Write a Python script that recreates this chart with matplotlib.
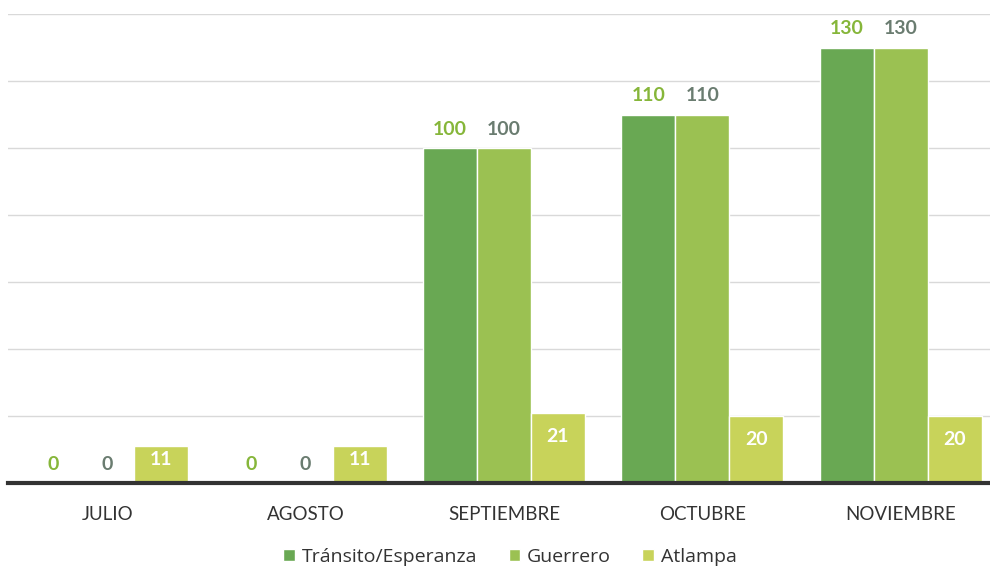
import matplotlib
matplotlib.use("Agg")
import matplotlib.pyplot as plt
import numpy as np

plt.rcParams['font.family'] = ['Lato', 'DejaVu Sans']

categories = ["JULIO", "AGOSTO", "SEPTIEMBRE", "OCTUBRE", "NOVIEMBRE"]
series_names = ["Tránsito/Esperanza", "Guerrero", "Atlampa"]
transito = [0, 0, 100, 110, 130]
guerrero = [0, 0, 100, 110, 130]
atlampa = [11, 11, 21, 20, 20]
colors = ["#69a853", "#9bc152", "#c8d35a"]
label_colors = ["#86b63a", "#6a7c70", "white"]

fig = plt.figure(figsize=(9.9, 5.71), dpi=100)
ax = fig.add_axes([8/990, 1 - 483/571, (990 - 8)/990, (483 - 14)/571])

x = np.arange(len(categories))
w = 0.272
data = [transito, guerrero, atlampa]
for i, (vals, c, lc) in enumerate(zip(data, colors, label_colors)):
    pos = x + (i - 1) * w
    ax.bar(pos, vals, width=w, color=c, edgecolor="white", linewidth=1, zorder=3,
           label=series_names[i])
    for p, v in zip(pos, vals):
        if i < 2:
            ax.text(p, v + 3.0, str(v), ha="center", va="bottom", color=lc,
                    fontsize=14, fontweight="bold", zorder=4)
        else:
            ax.text(p, v - min(7, 0.35 * v), str(v), ha="center", va="center",
                    color=lc, fontsize=14, fontweight="bold", zorder=4)

ax.set_ylim(0, 140)
ax.set_xlim(-0.5, 4.45)
ax.set_yticks(np.arange(20, 141, 20))
ax.yaxis.grid(True, color="#d9d9d9", linewidth=1, zorder=0)
ax.tick_params(axis="y", left=False, labelleft=False)
ax.tick_params(axis="x", bottom=False, labelsize=13.5, colors="#333333", pad=13)
ax.set_xticks(x)
ax.set_xticklabels(categories)
for s in ["top", "right", "left"]:
    ax.spines[s].set_visible(False)
ax.spines["bottom"].set_color("#333333")
ax.spines["bottom"].set_linewidth(3)
ax.spines["bottom"].set_zorder(5)

leg = fig.legend(loc="center", bbox_to_anchor=(510/990, 1 - 557/571), ncol=3,
                 frameon=False, prop={"family": ["Open Sans", "DejaVu Sans"], "size": 14},
                 handlelength=0.6, handleheight=0.6,
                 handletextpad=0.35, columnspacing=1.6)
for t in leg.get_texts():
    t.set_color("#333333")

fig.savefig("out.png", dpi=100)
